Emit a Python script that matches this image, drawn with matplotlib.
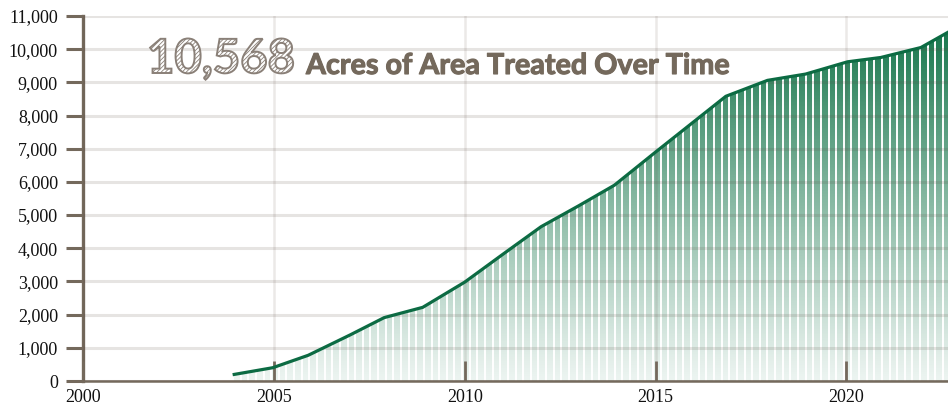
import numpy as np
import matplotlib
matplotlib.use("Agg")
import matplotlib.pyplot as plt
import matplotlib.colors as mcolors
import matplotlib.patheffects as pe
from matplotlib.patches import Polygon
from matplotlib.ticker import FuncFormatter

# ---- data ----
years = [2003.92, 2004.97, 2005.90, 2007.00, 2007.89, 2008.90, 2010.00,
         2011.00, 2012.00, 2013.00, 2013.92, 2015.00, 2016.84, 2017.93,
         2018.93, 2020.03, 2020.90, 2021.95, 2022.75]
acres = [190, 400, 775, 1390, 1910, 2220, 2980,
         3820, 4650, 5290, 5900, 6900, 8580, 9060,
         9250, 9620, 9750, 10050, 10568]
x_ticks = [2000, 2005, 2010, 2015, 2020]
y_ticks = list(range(0, 11001, 1000))
headline = "10,568"
subtitle = "Acres of Area Treated Over Time"

BROWN = "#74695c"
GREEN = "#0c6b43"
FILL = "#137449"
GRID = "#5b4a40"

W, H = 948, 408
plt.rcParams["hatch.linewidth"] = 0.6

fig = plt.figure(figsize=(W / 100, H / 100), dpi=100)
ax = fig.add_axes([83 / W, 27 / H, 865 / W, 365 / H])

# gradient area under the line, clipped to the polygon
ymax = max(acres)
rgba = np.zeros((256, 1, 4))
rgba[:, 0, :3] = mcolors.to_rgb(FILL)
rgba[:, 0, 3] = 0.08 + 0.90 * np.linspace(0, 1, 256) ** 1.1
verts = list(zip(years, acres)) + [(years[-1], 0), (years[0], 0)]
poly = Polygon(verts, closed=True, facecolor="none", edgecolor="none")
ax.add_patch(poly)
im = ax.imshow(rgba, extent=[years[0], years[-1], 0, ymax], origin="lower",
               aspect="auto", interpolation="bilinear", zorder=1)
im.set_clip_path(poly)

# white stripes across the fill (texture only)
stripes = ax.vlines(np.arange(2000.13, 2023, 0.2), 0, ymax, colors="white",
                    lw=1.4, zorder=1.5)
stripes.set_clip_path(poly)

ax.plot(years, acres, color=GREEN, lw=2.3, zorder=3,
        solid_joinstyle="round", solid_capstyle="butt")

ax.set_xlim(2000, 2022.66)
ax.set_ylim(0, 11000)
ax.set_xticks(x_ticks)
ax.set_yticks(y_ticks)
ax.yaxis.set_major_formatter(FuncFormatter(lambda v, p: f"{int(v):,}"))

ax.set_axisbelow(False)
ax.yaxis.grid(True, color=GRID, alpha=0.15, lw=2.2)
ax.xaxis.grid(True, color=GRID, alpha=0.12, lw=1.8)

for s in ("top", "right"):
    ax.spines[s].set_visible(False)
ax.spines["left"].set_color(BROWN)
ax.spines["left"].set_linewidth(2.4)
ax.spines["bottom"].set_color(BROWN)
ax.spines["bottom"].set_linewidth(1.8)

ax.tick_params(axis="y", direction="out", length=12, width=2.2, color=BROWN,
               pad=6, labelsize=13, labelcolor="#111111")
ax.tick_params(axis="x", direction="in", length=14.5, width=2.0, color=BROWN,
               pad=6, labelsize=13, labelcolor="#111111")
for lab in ax.get_xticklabels() + ax.get_yticklabels():
    lab.set_family("Liberation Serif")

# headline number with hatched fill + subtitle
fig.text(147 / W, 1 - 73 / H, headline, fontsize=34, family="Lato",
         weight="bold", color="white", va="baseline", zorder=5,
         path_effects=[pe.PathPatchEffect(edgecolor="#8a8078",
                                          facecolor="white",
                                          hatch="////////", lw=1.4)])
fig.text(306 / W, 1 - 74 / H, subtitle, fontsize=20.7, family="Lato",
         weight="bold", color=BROWN, va="baseline", zorder=5,
         path_effects=[pe.withStroke(linewidth=0.8, foreground=BROWN)])

fig.savefig("out.png", dpi=100)
